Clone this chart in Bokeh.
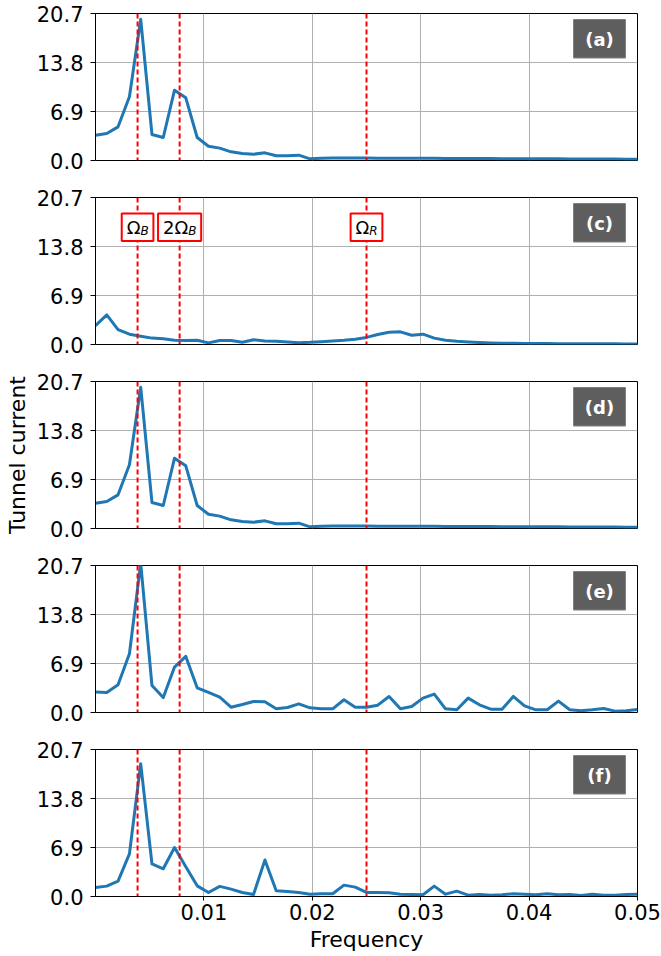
from bokeh.plotting import figure
from bokeh.layouts import column
from bokeh.models import Span, BoxAnnotation, Label, FixedTicker, NumeralTickFormatter, Range1d
from bokeh.embed import file_html
from bokeh.resources import INLINE

# ---------------- data ----------------
freq = [0.0, 0.00104, 0.00208, 0.00313, 0.00417, 0.00521, 0.00625, 0.00729, 0.00833, 0.00938,
        0.01042, 0.01146, 0.0125, 0.01354, 0.01458, 0.01563, 0.01667, 0.01771, 0.01875, 0.01979,
        0.02083, 0.02188, 0.02292, 0.02396, 0.025, 0.02604, 0.02708, 0.02813, 0.02917, 0.03021,
        0.03125, 0.03229, 0.03333, 0.03438, 0.03542, 0.03646, 0.0375, 0.03854, 0.03958, 0.04063,
        0.04167, 0.04271, 0.04375, 0.04479, 0.04583, 0.04688, 0.04792, 0.04896, 0.05]

series_a = [3.57, 3.8, 4.74, 8.97, 19.9, 3.66, 3.24, 9.9, 8.83, 3.24,
            2.0, 1.74, 1.22, 0.99, 0.89, 1.08, 0.66, 0.66, 0.75, 0.23,
            0.33, 0.35, 0.35, 0.34, 0.34, 0.33, 0.33, 0.32, 0.31, 0.31,
            0.3, 0.29, 0.29, 0.28, 0.27, 0.27, 0.26, 0.25, 0.25, 0.24,
            0.23, 0.23, 0.22, 0.21, 0.21, 0.2, 0.2, 0.19, 0.19]
series_c = [2.67, 4.17, 2.1, 1.45, 1.17, 0.9, 0.8, 0.6, 0.56, 0.6,
            0.23, 0.56, 0.56, 0.33, 0.66, 0.5, 0.45, 0.35, 0.25, 0.3,
            0.4, 0.5, 0.6, 0.75, 1.0, 1.4, 1.72, 1.78, 1.3, 1.45,
            0.9, 0.6, 0.45, 0.35, 0.28, 0.22, 0.19, 0.17, 0.15, 0.14,
            0.13, 0.12, 0.11, 0.1, 0.1, 0.09, 0.09, 0.08, 0.08]
series_d = [3.57, 3.8, 4.74, 8.97, 19.9, 3.66, 3.24, 9.9, 8.83, 3.24,
            2.0, 1.74, 1.22, 0.99, 0.89, 1.08, 0.66, 0.66, 0.75, 0.23,
            0.33, 0.35, 0.35, 0.34, 0.34, 0.33, 0.33, 0.32, 0.31, 0.31,
            0.3, 0.29, 0.29, 0.28, 0.27, 0.27, 0.26, 0.25, 0.25, 0.24,
            0.23, 0.23, 0.22, 0.21, 0.21, 0.2, 0.2, 0.19, 0.19]
series_e = [2.87, 2.82, 3.9, 8.28, 21.0, 3.8, 2.1, 6.4, 7.9, 3.48,
            2.82, 2.16, 0.75, 1.13, 1.55, 1.5, 0.52, 0.7, 1.22, 0.66,
            0.52, 0.52, 1.79, 0.75, 0.75, 1.03, 2.26, 0.52, 0.85, 2.02,
            2.59, 0.52, 0.38, 2.02, 1.08, 0.47, 0.47, 2.26, 0.94, 0.38,
            0.38, 1.6, 0.38, 0.24, 0.38, 0.56, 0.19, 0.24, 0.42]
series_f = [1.27, 1.46, 2.17, 6.0, 18.7, 4.58, 3.9, 6.9, 4.2, 1.5,
            0.57, 1.42, 1.04, 0.57, 0.28, 5.14, 0.8, 0.7, 0.57, 0.33,
            0.38, 0.38, 1.6, 1.32, 0.57, 0.57, 0.52, 0.33, 0.28, 0.24,
            1.46, 0.33, 0.75, 0.19, 0.28, 0.19, 0.24, 0.38, 0.33, 0.24,
            0.38, 0.24, 0.28, 0.14, 0.33, 0.19, 0.19, 0.28, 0.33]

panel_tags = ["(a)", "(c)", "(d)", "(e)", "(f)"]
marker_freqs = [0.00388, 0.00776, 0.025]
marker_main = ["Ω", "2Ω", "Ω"]
marker_sub = ["B", "B", "R"]
y_ticks = [0.0, 6.9, 13.8, 20.7]
x_ticks = [0.01, 0.02, 0.03, 0.04, 0.05]

all_series = [series_a, series_c, series_d, series_e, series_f]

# ---------------- layout helpers ----------------
FONT = "DejaVu Sans"
X0, X1 = 0.0, 0.05
Y0, Y1 = 0.0, 20.7
FW, FH = 542, 147
BLUE = "#1f77b4"


def dx(px):
    return X0 + px / FW * (X1 - X0)


def dy(py):
    return Y1 - py / FH * (Y1 - Y0)


figs = []
n = len(all_series)
for i, (series, tag) in enumerate(zip(all_series, panel_tags)):
    last = i == n - 1
    p = figure(frame_width=FW, frame_height=FH,
               x_range=Range1d(X0, X1), y_range=Range1d(Y0, Y1),
               output_backend="svg", toolbar_location=None,
               min_border_left=95, min_border_right=24, min_border_top=13,
               min_border_bottom=60 if last else 24,
               background_fill_color="white", border_fill_color="white")
    p.outline_line_color = "black"
    p.outline_line_width = 1

    # grid
    p.xgrid.ticker = FixedTicker(ticks=x_ticks)
    p.ygrid.ticker = FixedTicker(ticks=y_ticks)
    for g in (p.xgrid, p.ygrid):
        g.grid_line_color = "#b0b0b0"
        g.grid_line_width = 1

    # y axis
    ya = p.yaxis[0]
    ya.ticker = FixedTicker(ticks=y_ticks)
    ya.formatter = NumeralTickFormatter(format="0.0")
    ya.major_label_text_font = FONT
    ya.major_label_text_font_size = "21px"
    ya.major_label_text_color = "black"
    ya.major_tick_out = 5
    ya.major_tick_in = 0
    ya.minor_tick_out = 0
    ya.minor_tick_in = 0
    ya.major_label_standoff = 7
    ya.axis_line_color = "black"
    ya.major_tick_line_color = "black"
    if i == 2:
        ya.axis_label = "Tunnel current"
        ya.axis_label_text_font = FONT
        ya.axis_label_text_font_size = "22px"
        ya.axis_label_text_font_style = "normal"
        ya.axis_label_text_color = "black"
        ya.axis_label_standoff = 4

    # x axis
    xa = p.xaxis[0]
    if last:
        xa.ticker = FixedTicker(ticks=x_ticks)
        xa.formatter = NumeralTickFormatter(format="0.00")
        xa.major_tick_out = 4
        xa.major_tick_in = 0
        xa.minor_tick_out = 0
        xa.minor_tick_in = 0
        xa.axis_line_color = "black"
        xa.major_tick_line_color = "black"
        xa.major_label_text_font = FONT
        xa.major_label_text_font_size = "21px"
        xa.major_label_text_color = "black"
        xa.major_label_standoff = 3
        xa.axis_label = "Frequency"
        xa.axis_label_text_font = FONT
        xa.axis_label_text_font_size = "22px"
        xa.axis_label_text_font_style = "normal"
        xa.axis_label_text_color = "black"
        xa.axis_label_standoff = 4
    else:
        xa.visible = False

    # data line
    p.line(freq, series, line_color=BLUE, line_width=3, line_join="round")

    # marker lines
    for f in marker_freqs:
        p.add_layout(Span(location=f, dimension="height", line_color="red",
                          line_width=2, line_dash="5 3"))

    # panel tag box
    p.add_layout(BoxAnnotation(left=dx(478), right=dx(530), top=dy(6), bottom=dy(44.5),
                               fill_color="#5e5e5e", fill_alpha=1.0,
                               line_color="#808080", line_alpha=1.0, line_width=1))
    p.add_layout(Label(x=dx(504), y=dy(25.5), text=tag, text_font=FONT,
                       text_font_size="18px", text_font_style="bold",
                       text_color="white", text_align="center", text_baseline="middle"))

    # marker name boxes (panel c)
    if i == 1:
        main_fs, sub_fs = 18, 12
        em = {"Ω": 0.764, "2": 0.636}
        sub_em = {"B": 0.66, "R": 0.67}
        for f, m, s in zip(marker_freqs, marker_main, marker_sub):
            cpx = (f - X0) / (X1 - X0) * FW
            mw = sum(em[ch] for ch in m) * main_fs
            sw = sub_em[s] * sub_fs
            half = (mw + sw) / 2 + 5
            p.add_layout(BoxAnnotation(left=dx(cpx - half), right=dx(cpx + half),
                                       top=dy(16), bottom=dy(43.5),
                                       fill_color="white", fill_alpha=1.0,
                                       line_color="red", line_alpha=1.0, line_width=2))
            left = cpx - (mw + sw) / 2
            p.add_layout(Label(x=dx(left), y=dy(29.5), text=m, text_font=FONT,
                               text_font_size=f"{main_fs}px", text_color="black",
                               text_align="left", text_baseline="middle"))
            p.add_layout(Label(x=dx(left + mw), y=dy(33), text=s, text_font=FONT,
                               text_font_size=f"{sub_fs}px", text_font_style="italic",
                               text_color="black", text_align="left",
                               text_baseline="middle"))
    figs.append(p)

layout = column(*figs, spacing=0)
open("out.html", "w").write(file_html(layout, INLINE))
